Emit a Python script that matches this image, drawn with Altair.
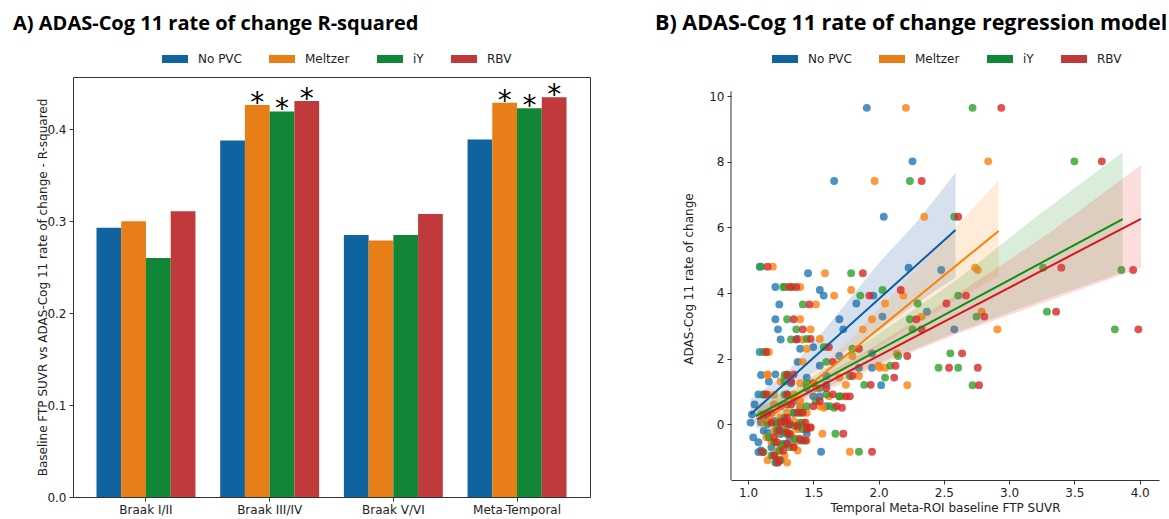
import altair as alt
import pandas as pd

# ---------------- Panel A: R-squared bars ----------------
regions = ["Braak I/II", "Braak III/IV", "Braak V/VI", "Meta-Temporal"]
methods = ["No PVC", "Meltzer", "iY", "RBV"]
r2_nopvc = [0.293, 0.388, 0.285, 0.389]
r2_meltzer = [0.300, 0.4265, 0.279, 0.429]
r2_iy = [0.260, 0.4195, 0.285, 0.423]
r2_rbv = [0.311, 0.431, 0.308, 0.435]
star_nopvc = [False, False, False, False]
star_meltzer = [False, True, False, True]
star_iy = [False, True, False, True]
star_rbv = [False, True, False, True]

# ---------------- Panel B: scatter (one row per subject) ----------------
adas_rate = [9.64, 8.01, 7.41, 6.32, 4.77, 4.70, 4.80, 4.60, 4.18, 4.18,
             4.09, 3.92, 3.92, 3.68, 3.65, 3.43, 3.28, 3.20, 3.20, 2.89,
             2.89, 2.89, 2.58, 2.35, 2.30, 2.20, 2.16, 2.08, 1.90, 1.78,
             1.72, 1.72, 1.52, 1.42, 1.30, 1.19, 1.20, 1.25, 0.91, 0.91,
             0.85, 0.55, 0.50, 0.30, 0.35, 0.05, 0.05, 0.00, -0.05, 0.05,
             -0.10, 0.10, -0.20, -0.29, -0.30, -0.40, -0.45, -0.55, -0.60, -0.70,
             -0.80, -0.84, -0.85, -0.95, -1.10, -1.17, 0.20, 0.60, -0.15, 1.50,
             1.10, 0.90, 2.60, 0.85, 0.55, 1.47, -0.50, 0.35, -0.25, 0.70]
suvr_nopvc = [1.91, 2.26, 1.66, 2.04, 2.23, 2.48, 1.09, 1.46, 1.21, 1.28,
              1.55, 1.58, 1.96, 1.83, 1.24, 2.37, 2.03, 1.21, 1.70, 2.58,
              1.23, 1.73, 1.25, 1.50, 1.40, 1.09, 1.95, 1.70, 1.38, 1.55,
              1.95, 1.85, 1.21, 1.45, 1.16, 2.02, 1.60, 1.33, 1.08, 1.30,
              1.55, 1.25, 1.40, 1.03, 1.35, 1.02, 1.10, 1.15, 1.22, 1.30,
              1.38, 1.20, 1.12, 1.45, 1.25, 1.04, 1.32, 1.08, 1.28, 1.18,
              1.10, 1.56, 1.08, 1.20, 1.22, 1.21, 1.12, 1.05, 1.26, 1.10,
              1.45, 1.12, 1.38, 1.50, 1.60, 1.60, 1.40, 1.18, 1.15, 1.35]
suvr_meltzer = [2.21, 2.84, 1.97, 2.35, 2.74, 2.76, 1.19, 1.59, 1.29, 1.40,
                1.79, 1.66, 2.19, 2.05, 1.52, 2.79, 2.33, 1.40, 1.95, 2.91,
                1.48, 1.88, 1.42, 1.60, 1.45, 1.16, 2.14, 1.80, 1.42, 2.00,
                2.01, 2.05, 1.15, 1.70, 1.25, 2.22, 1.75, 1.40, 1.15, 1.35,
                1.72, 1.40, 1.58, 1.10, 1.45, 1.12, 1.20, 1.28, 1.30, 1.42,
                1.48, 1.35, 1.20, 1.57, 1.33, 1.14, 1.38, 1.18, 1.35, 1.25,
                1.38, 1.78, 1.22, 1.28, 1.15, 1.30, 1.25, 1.20, 1.38, 1.15,
                1.52, 1.20, 1.55, 1.62, 1.55, 1.85, 1.45, 1.30, 1.22, 1.40]
suvr_iy = [2.72, 3.50, 2.24, 2.58, 3.26, 3.86, 1.10, 1.79, 1.27, 1.34,
           2.03, 1.86, 2.61, 2.30, 1.42, 3.29, 2.75, 1.30, 2.24, 3.81,
           1.37, 2.26, 1.33, 1.58, 1.80, 1.12, 2.55, 2.15, 1.60, 2.09,
           2.46, 2.61, 1.30, 2.05, 1.28, 2.72, 1.89, 1.45, 1.12, 1.60,
           1.70, 1.45, 1.66, 1.12, 1.40, 1.15, 1.22, 1.30, 1.35, 1.40,
           1.45, 1.25, 1.22, 1.67, 1.30, 1.16, 1.36, 1.20, 1.26, 1.32,
           1.24, 1.85, 1.12, 1.18, 1.25, 1.22, 1.28, 1.30, 1.42, 1.28,
           1.55, 1.28, 1.45, 1.70, 1.63, 1.78, 1.42, 1.35, 1.28, 1.52]
suvr_rbv = [2.94, 3.71, 2.33, 2.61, 3.40, 3.95, 1.15, 1.88, 1.32, 1.37,
            2.17, 1.93, 2.67, 2.52, 1.47, 3.36, 2.81, 1.35, 2.29, 3.99,
            1.42, 2.33, 1.37, 1.62, 1.85, 1.14, 2.64, 2.22, 1.65, 2.13,
            2.54, 2.76, 1.35, 2.12, 1.33, 2.77, 1.94, 1.50, 1.14, 1.65,
            1.78, 1.50, 1.72, 1.15, 1.42, 1.18, 1.25, 1.32, 1.38, 1.44,
            1.48, 1.28, 1.24, 1.73, 1.32, 1.20, 1.40, 1.22, 1.30, 1.35,
            1.27, 1.95, 1.11, 1.20, 1.24, 1.23, 1.30, 1.33, 1.45, 1.30,
            1.60, 1.30, 1.48, 1.75, 1.68, 1.80, 1.44, 1.38, 1.30, 1.55]

# regression fits (line ends) and confidence bands
fit_x0 = [1.02, 1.13, 1.06, 1.07]
fit_x1 = [2.59, 2.92, 3.87, 4.01]
fit_y0 = [0.30, 0.08, 0.25, 0.15]
fit_y1 = [5.92, 5.89, 6.25, 6.26]
band_x_nopvc = [1.02, 1.30, 1.60, 2.00, 2.30, 2.59]
band_lo_nopvc = [-0.10, 1.00, 1.85, 2.85, 3.70, 4.47]
band_hi_nopvc = [0.75, 1.60, 2.95, 4.90, 6.20, 7.66]
band_x_meltzer = [1.13, 1.40, 1.80, 2.20, 2.60, 2.92]
band_lo_meltzer = [-0.25, 0.72, 1.85, 2.85, 3.80, 4.52]
band_hi_meltzer = [0.45, 1.20, 2.65, 4.35, 6.05, 7.43]
band_x_iy = [1.06, 1.40, 2.00, 2.60, 3.20, 3.87]
band_lo_iy = [-0.10, 0.75, 1.85, 2.80, 3.70, 4.62]
band_hi_iy = [0.60, 1.20, 2.75, 4.40, 6.30, 8.29]
band_x_rbv = [1.07, 1.40, 2.00, 2.60, 3.30, 4.01]
band_lo_rbv = [-0.15, 0.62, 1.78, 2.75, 3.75, 4.77]
band_hi_rbv = [0.50, 1.05, 2.45, 3.95, 5.80, 7.90]

# y-axis spine extent of panel B (matplotlib ylim)
ylim_b = [-1.70, 10.15]

bar_colors = ["#0f639e", "#e87e17", "#118636", "#c03a3c"]
point_colors = ["#1f77b4", "#ff7f0e", "#2ca02c", "#d62728"]
line_colors = ["#0b5ea8", "#ff7f00", "#0f8f0f", "#d41717"]
band_colors = ["#2a5d9f", "#ff9a2e", "#3aa03a", "#f04a4a"]

# ---------------- tables ----------------
r2_lists = [r2_nopvc, r2_meltzer, r2_iy, r2_rbv]
star_lists = [star_nopvc, star_meltzer, star_iy, star_rbv]
bars_df = pd.DataFrame([
    {"region": reg, "method": m, "r2": r2_lists[j][i], "star": star_lists[j][i]}
    for i, reg in enumerate(regions) for j, m in enumerate(methods)
])

suvr_lists = [suvr_nopvc, suvr_meltzer, suvr_iy, suvr_rbv]
band_x = [band_x_nopvc, band_x_meltzer, band_x_iy, band_x_rbv]
band_lo = [band_lo_nopvc, band_lo_meltzer, band_lo_iy, band_lo_rbv]
band_hi = [band_hi_nopvc, band_hi_meltzer, band_hi_iy, band_hi_rbv]

FONT = "DejaVu Sans"
TXT = "#222222"
sym = "M-1.3,-0.4H1.3V0.4H-1.3Z"

def make_legend(lx, ly):
    return alt.Legend(title=None, orient="none", legendX=lx, legendY=ly,
                      direction="horizontal", columns=4, symbolType=sym,
                      symbolSize=400, symbolStrokeWidth=0, symbolOpacity=1,
                      labelFont=FONT, labelFontSize=12, labelColor=TXT,
                      labelOffset=13, columnPadding=27, padding=0)

# ---------------- Panel A chart ----------------
xA = alt.X("region:N", sort=regions,
           scale=alt.Scale(paddingInner=0.2, paddingOuter=0.19),
           axis=alt.Axis(title=None, labelAngle=0, labelFont=FONT, labelFontSize=12,
                         labelColor=TXT, domain=False, tickColor="#333", tickSize=4,
                         labelPadding=3))
xoA = alt.XOffset("method:N", sort=methods, scale=alt.Scale(paddingInner=0, paddingOuter=0))
yA = alt.Y("r2:Q", scale=alt.Scale(domain=[0, 0.457], nice=False),
           axis=alt.Axis(title="Baseline FTP SUVR vs ADAS-Cog 11 rate of change - R-squared",
                         values=[0, 0.1, 0.2, 0.3, 0.4], format=".1f", grid=False,
                         domain=False, tickColor="#333", tickSize=4, labelPadding=3,
                         labelFont=FONT, labelFontSize=12, labelColor=TXT,
                         titleFont=FONT, titleFontSize=12, titleFontWeight="normal",
                         titleColor=TXT, titleX=-24, titleBaseline="bottom"))

baseA = alt.Chart(bars_df)
barsA = baseA.mark_bar().encode(
    x=xA, xOffset=xoA, y=yA,
    color=alt.Color("method:N", sort=methods,
                    scale=alt.Scale(domain=methods, range=bar_colors),
                    legend=make_legend(92, -28)))
starsA = baseA.transform_filter("datum.star").mark_text(
    text="*", font=FONT, fontSize=28, baseline="alphabetic", dy=7, color="black"
).encode(x=xA, xOffset=xoA, y=yA)

titleA = alt.TitleParams("A) ADAS-Cog 11 rate of change R-squared", anchor="start",
                         frame="group", dx=-60, font="Open Sans", fontSize=20,
                         fontWeight="bold", color="black", offset=15)
left = alt.layer(barsA, starsA).properties(
    width=517, height=420, title=titleA,
    view=alt.ViewBackground(stroke="#333333", strokeWidth=1))

# ---------------- Panel B chart ----------------
xB = alt.X("x:Q", scale=alt.Scale(domain=[0.87, 4.148], nice=False, zero=False),
           axis=alt.Axis(title="Temporal Meta-ROI baseline FTP SUVR",
                         values=[1.0, 1.5, 2.0, 2.5, 3.0, 3.5, 4.0], format=".1f",
                         grid=False, domainColor="#333", tickColor="#333", tickSize=4,
                         labelPadding=3, labelFont=FONT, labelFontSize=12, labelColor=TXT,
                         titleFont=FONT, titleFontSize=12, titleFontWeight="normal",
                         titleColor=TXT, titlePadding=4, labelFlush=False))
yB = alt.Y("y:Q", scale=alt.Scale(domain=[-1.70, 10.58], nice=False, zero=False),
           axis=alt.Axis(title="ADAS-Cog 11 rate of change",
                         values=[0, 2, 4, 6, 8, 10], format="d", domain=False,
                         grid=False, tickColor="#333", tickSize=4,
                         labelPadding=3, labelFont=FONT, labelFontSize=12, labelColor=TXT,
                         titleFont=FONT, titleFontSize=12, titleFontWeight="normal",
                         titleColor=TXT, titlePadding=13, labelFlush=False))

layersB = []
for j, m in enumerate(methods):
    pts_df = pd.DataFrame({"x": suvr_lists[j], "y": adas_rate})
    band_df = pd.DataFrame({"x": band_x[j], "y": band_lo[j], "hi": band_hi[j]})
    layersB.append(alt.Chart(pts_df).mark_circle(size=62, opacity=0.8, color=point_colors[j])
                   .encode(x=xB, y=yB))
    layersB.append(alt.Chart(band_df).mark_area(opacity=0.19, color=band_colors[j])
                   .encode(x=xB, y=yB, y2="hi:Q"))
for j, m in enumerate(methods):
    line_df = pd.DataFrame({"x": [fit_x0[j], fit_x1[j]], "y": [fit_y0[j], fit_y1[j]]})
    layersB.append(alt.Chart(line_df).mark_line(color=line_colors[j], strokeWidth=2)
                   .encode(x=xB, y=yB))

# left spine limited to the matplotlib y-limits
spine_df = pd.DataFrame({"y": [ylim_b[1]], "y2": [ylim_b[0]]})
layersB.append(alt.Chart(spine_df).mark_rule(color="#333333", strokeWidth=1).encode(
    x=alt.value(0), y=yB, y2="y2:Q"))

legend_df = pd.DataFrame({"meth": methods, "x": fit_x0, "y": fit_y0})
layersB.append(alt.Chart(legend_df).mark_square(size=1, opacity=0).encode(
    x=xB, y=yB,
    color=alt.Color("meth:N", sort=methods,
                    scale=alt.Scale(domain=methods, range=bar_colors),
                    legend=make_legend(44, -28))))

titleB = alt.TitleParams("B) ADAS-Cog 11 rate of change regression model", anchor="start",
                         frame="group", dx=-76, font="Open Sans", fontSize=21.5,
                         fontWeight="bold", color="black", offset=15)
right = alt.layer(*layersB).properties(
    width=428, height=403, title=titleB,
    view=alt.ViewBackground(strokeOpacity=0))

chart = alt.hconcat(left, right, spacing=64).resolve_scale(
    color="independent").resolve_legend(color="independent").properties(
    padding={"left": 12, "top": 12, "right": 0, "bottom": 0},
    background="white")

chart.save("out.html", embed_options={"renderer": "svg", "actions": False})
